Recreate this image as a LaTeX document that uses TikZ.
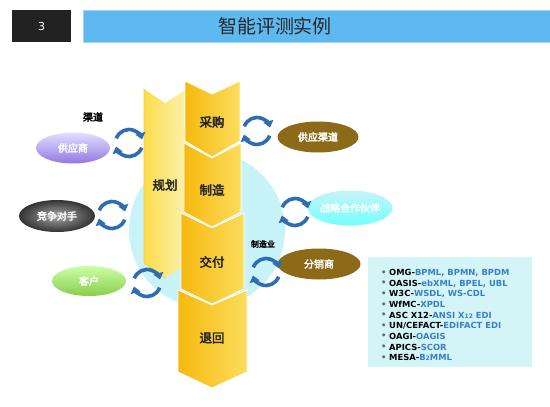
\documentclass[tikz,border=0pt]{standalone}
\usepackage{fontspec}
\setmainfont{DejaVu Sans}
\newfontfamily\cjk{Noto Sans CJK SC}
\newfontfamily\cjkb[FakeBold=3]{Noto Sans CJK SC}
\newfontfamily\lst{DejaVu Sans}
\usetikzlibrary{shapes.geometric,arrows.meta}
\definecolor{barblue}{HTML}{5DB9F0}
\definecolor{darkbox}{HTML}{222222}
\definecolor{circ}{HTML}{C8F3F8}
\definecolor{arrblue}{HTML}{2F6DB3}
\definecolor{gold1}{HTML}{F6B90E}
\definecolor{gold2}{HTML}{FCDD5E}
\definecolor{pale1}{HTML}{FBDC4A}
\definecolor{pale2}{HTML}{FDF2B0}
\definecolor{brown}{HTML}{8C6A18}
\definecolor{listbg}{HTML}{D3F5F8}
\definecolor{listblue}{HTML}{3A7FC6}
\tikzset{
  ell/.style={ellipse, inner sep=0pt, text=white, font=\cjkb\fontsize{10}{12}\selectfont},
  colbox/.style={draw=white, line width=0.8pt, left color=gold1, right color=gold2},
  collabel/.style={font=\cjkb\fontsize{12.5}{14}\selectfont, text=black!85},
  cyc/.pic={
    \draw[arrblue, line width=3.6pt, -{Triangle[width=10pt,length=6.5pt]}] (20:13.5) arc[start angle=20, end angle=165, radius=13.5];
    \draw[arrblue, line width=3.6pt, -{Triangle[width=10pt,length=6.5pt]}] (200:13.5) arc[start angle=200, end angle=345, radius=13.5];
  },
  litem/.style={anchor=west, inner sep=0pt, font=\lst\bfseries\fontsize{8.4}{10}\selectfont}
}
\begin{document}
\begin{tikzpicture}[x=1pt,y=-1pt]
\useasboundingbox (0,0) rectangle (550,407);
\fill[white] (0,0) rectangle (550,407);
% header
\node[fill=darkbox, minimum width=59pt, minimum height=32pt, inner sep=0pt, text=white, font=\lst\fontsize{11}{12}\selectfont] (num) at (41.5,26) {3};
\node[fill=barblue, draw=barblue!60!white, line width=0.5pt, minimum width=467pt, minimum height=32pt, inner sep=0pt] (bar) at (316.5,26) {};
\node[font=\cjk\fontsize{19}{22}\selectfont, text=black!85] (title) at (275,26) {智能评测实例};
% circle
\fill[circ] (207,230) circle[radius=78];
% left column
\path[left color=pale1, right color=pale2] (144,89) -- (165,103) -- (187,89) -- (187,263) -- (165,278) -- (144,263) -- cycle;
\draw[pale1!80!orange, line width=0.6pt] (144,89) -- (144,263) -- (165,278);
\node[collabel] (plan) at (165,185) {规划};
% right column chevrons
\path[colbox] (185,81) -- (212,94) -- (240,81) -- (240,141) -- (212,157) -- (185,141) -- cycle;
\path[colbox] (184,143) -- (212,158) -- (241,143) -- (241,212) -- (212,227) -- (184,212) -- cycle;
\path[colbox] (181,213) -- (212,228) -- (244,213) -- (244,289) -- (212,304) -- (181,289) -- cycle;
\path[colbox] (178,290) -- (212,305) -- (247,290) -- (247,372) -- (212,388) -- (178,372) -- cycle;
\node[collabel] (buy) at (212,122) {采购};
\node[collabel] (make) at (212,190) {制造};
\node[collabel] (deliver) at (212,262) {交付};
\node[collabel] (ret) at (212,338) {退回};
% labels
\node[font=\cjkb\fontsize{10}{12}\selectfont] (chan) at (93,117) {渠道};
\node[font=\cjkb\fontsize{8}{10}\selectfont] (mfg) at (263,244) {制造业};
% left ellipses
\node[ell, minimum width=74pt, minimum height=31pt, top color=blue!12!white, bottom color=blue!45!white!85!purple] (sup) at (73,148) {供应商};
\node[ell, minimum width=76pt, minimum height=32pt, inner color=black!35, outer color=black!80] (comp) at (57,216) {竞争对手};
\node[ell, minimum width=74pt, minimum height=30pt, top color=green!45!lime!35!white, bottom color=green!50!black!55!lime!70!white] (cust) at (89,281) {客户};
% right ellipses
\node[ell, minimum width=81pt, minimum height=31pt, fill=brown] (supch) at (318,137) {供应渠道};
\node[ell, minimum width=78pt, minimum height=35pt, top color=circ, bottom color=cyan!55!white] (partner) at (350,208) {战略合作伙伴};
\node[ell, minimum width=83pt, minimum height=31pt, fill=brown] (dist) at (319,264) {分销商};
% cycle arrows
\pic at (129,143) {cyc};
\pic at (112,215) {cyc};
\pic at (147,283) {cyc};
\pic at (257,131) {cyc};
\pic at (295,212) {cyc};
\pic at (266,272) {cyc};
% list box
\node[fill=listbg, minimum width=164pt, minimum height=110pt, inner sep=0pt] (list) at (450,312) {};
\foreach \i/\a/\b in {0/OMG/{BPML, BPMN, BPDM},1/OASIS/{ebXML, BPEL, UBL},2/W3C/{WSDL, WS-CDL},3/WfMC/XPDL,4/ASC X12/{ANSI X{\fontsize{6}{6}\selectfont 12} EDI},5/{UN/CEFACT}/{EDIFACT EDI},6/OAGI/OAGIS,7/APICS/SCOR,8/MESA/{B{\fontsize{6}{6}\selectfont 2}MML}}{
  \node[litem, text=black!60] (b\i) at (381,273+10.6*\i) {•};
  \node[litem] (t\i) at (389,273+10.6*\i) {\a-{\color{listblue}\b}};
}
\end{tikzpicture}
\end{document}
